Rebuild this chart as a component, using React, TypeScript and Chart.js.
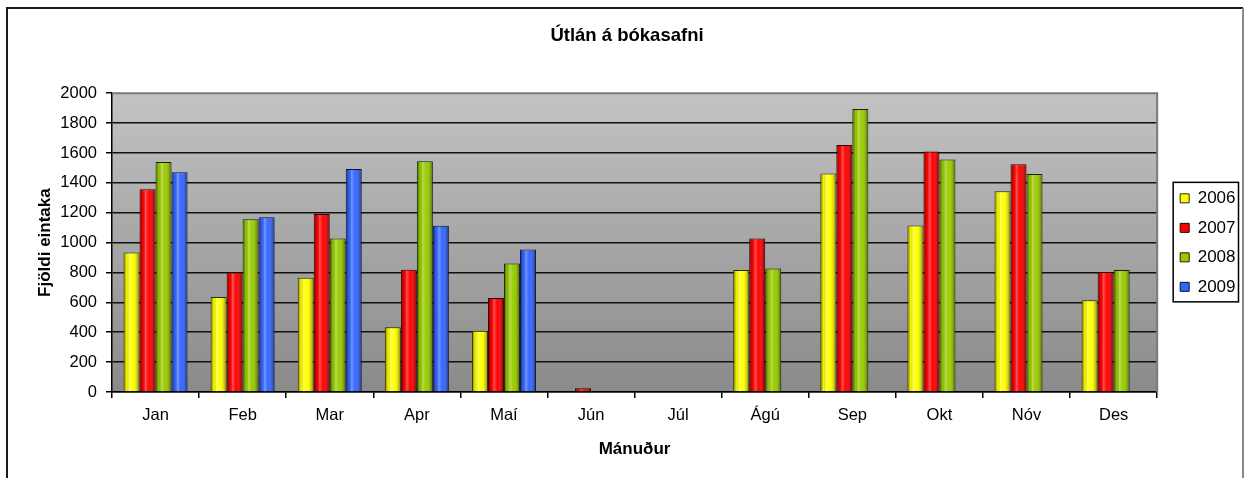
import { useEffect, useRef } from 'react';
import { Chart, registerables } from 'chart.js';

Chart.register(...registerables);

const months = ['Jan', 'Feb', 'Mar', 'Apr', 'Maí', 'Jún', 'Júl', 'Ágú', 'Sep', 'Okt', 'Nóv', 'Des'];
const years = ['2006', '2007', '2008', '2009'];
const values2006 = [934, 636, 764, 434, 410, null, null, 817, 1462, 1115, 1344, 614];
const values2007 = [1357, 800, 1192, 818, 629, 25, null, 1028, 1653, 1610, 1525, 804];
const values2008 = [1539, 1156, 1028, 1545, 860, null, null, 826, 1895, 1557, 1460, 817];
const values2009 = [1471, 1169, 1492, 1113, 954, null, null, null, null, null, null, null];
const yMin = 0;
const yMax = 2000;
const yStep = 200;

const fillColors = ['#FFFF00', '#FF0000', '#99CC00', '#3366FF'];
const edgeColors = ['#2a2a00', '#2a0000', '#172000', '#06123a'];
const FONT = '"Liberation Sans", Arial, Helvetica, sans-serif';

const decorPlugin = {
  id: 'decor',
  beforeDraw(chart: any) {
    const { ctx, chartArea: a } = chart;
    ctx.save();
    const g = ctx.createLinearGradient(0, a.top, 0, a.bottom);
    g.addColorStop(0, '#c3c3c3');
    g.addColorStop(1, '#8a8a8a');
    ctx.fillStyle = g;
    ctx.fillRect(a.left, a.top, a.right - a.left, a.bottom - a.top);
    ctx.restore();
  },
  afterLayout(chart: any) {
    const lg = chart.legend;
    if (lg) {
      const w = lg.right - lg.left;
      lg.left = chart.chartArea.right + 10.5;
      lg.right = lg.left + w;
    }
    const tb = chart.titleBlock;
    if (tb) {
      const w = tb.right - tb.left;
      tb.left = 627 - w / 2;
      tb.right = tb.left + w;
    }
  },
  beforeDatasetsDraw(chart: any) {
    const { ctx, chartArea: a } = chart;
    ctx.save();
    ctx.strokeStyle = '#7a7a7a';
    ctx.lineWidth = 2;
    ctx.beginPath();
    ctx.moveTo(a.left, a.top);
    ctx.lineTo(a.right, a.top);
    ctx.lineTo(a.right, a.bottom);
    ctx.stroke();
    ctx.restore();
  },
  afterDatasetsDraw(chart: any) {
    const ctx = chart.ctx;
    ctx.save();
    chart.data.datasets.forEach((ds: any, di: number) => {
      const meta = chart.getDatasetMeta(di);
      meta.data.forEach((el: any, i: number) => {
        const v = ds.data[i];
        if (v == null) return;
        const { x, y, base, width } = el.getProps(['x', 'y', 'base', 'width'], true);
        const l = x - width / 2 + 1;
        const r = x + width / 2 - 1;
        const t = Math.min(y, base) + 1;
        const b = Math.max(y, base);
        if (b - t < 1 || r - l < 1) return;
        const g = ctx.createLinearGradient(l, 0, r, 0);
        g.addColorStop(0, 'rgba(0,0,0,0.40)');
        g.addColorStop(0.15, 'rgba(0,0,0,0.05)');
        g.addColorStop(0.35, 'rgba(255,255,255,0.30)');
        g.addColorStop(0.6, 'rgba(255,255,255,0.0)');
        g.addColorStop(1, 'rgba(0,0,0,0.38)');
        ctx.fillStyle = g;
        ctx.fillRect(l, t, r - l, b - t);
      });
    });
    ctx.restore();
  },
  afterDraw(chart: any) {
    const { ctx } = chart;
    ctx.save();
    ctx.strokeStyle = '#1a1a1a';
    ctx.lineWidth = 2;
    ctx.beginPath();
    ctx.moveTo(7, 600);
    ctx.lineTo(7, 8);
    ctx.lineTo(1243, 8);
    ctx.stroke();
    ctx.strokeStyle = '#8a8a8a';
    ctx.beginPath();
    ctx.moveTo(1243, 8);
    ctx.lineTo(1243, 600);
    ctx.stroke();
    const lg = chart.legend;
    if (lg && lg.legendHitBoxes && lg.legendHitBoxes.length) {
      const hb = lg.legendHitBoxes;
      const first = hb[0];
      const last = hb[hb.length - 1];
      let maxRight = 0;
      hb.forEach((h: any) => { maxRight = Math.max(maxRight, h.left + h.width); });
      const x0 = first.left - 7;
      const x1 = maxRight + 3;
      const y0 = first.top - 7.5;
      const y1 = last.top + last.height + 6.5;
      ctx.strokeStyle = '#000';
      ctx.lineWidth = 1.5;
      ctx.strokeRect(x0, y0, x1 - x0, y1 - y0);
    }
    ctx.restore();
  },
};

export default function App() {
  const canvasRef = useRef<HTMLCanvasElement | null>(null);

  useEffect(() => {
    const canvas = canvasRef.current;
    if (!canvas) return;
    const series = [values2006, values2007, values2008, values2009];
    const chart = new Chart(canvas, {
      type: 'bar',
      data: {
        labels: months,
        datasets: years.map((yr, i) => ({
          label: yr,
          data: series[i],
          backgroundColor: fillColors[i],
          borderColor: edgeColors[i],
          borderWidth: 1,
          categoryPercentage: 0.735,
          barPercentage: 1,
        })),
      },
      options: {
        animation: false,
        responsive: false,
        maintainAspectRatio: false,
        layout: { padding: { left: 0, right: 9, top: 0, bottom: 0 } },
        plugins: {
          title: {
            display: true,
            text: 'Útlán á bókasafni',
            color: '#000',
            font: { family: FONT, size: 18.5, weight: 'bold' },
            padding: { top: 25, bottom: 46 },
          },
          legend: {
            position: 'right',
            fullSize: false,
            labels: {
              boxWidth: 9,
              boxHeight: 9,
              padding: 12.5,
              color: '#000',
              font: { family: FONT, size: 17 },
            },
          },
          tooltip: { enabled: false },
        },
        scales: {
          x: {
            grid: {
              display: true,
              drawOnChartArea: false,
              drawTicks: true,
              tickLength: 6,
              color: '#000',
              lineWidth: 1.5,
            },
            border: { display: true, color: '#000', width: 1.5 },
            ticks: {
              color: '#000',
              font: { family: FONT, size: 16.5 },
              padding: 8,
              maxRotation: 0,
              autoSkip: false,
            },
            title: {
              display: true,
              text: 'Mánuður',
              color: '#000',
              font: { family: FONT, size: 17, weight: 'bold' },
              padding: { top: 0, bottom: 18 },
            },
            afterFit: (s: any) => { s.height = 86; },
          },
          y: {
            min: yMin,
            max: yMax,
            ticks: {
              stepSize: yStep,
              color: '#000',
              font: { family: FONT, size: 16.5 },
              padding: 9,
              callback: (v: any) => String(v),
            },
            grid: {
              color: (c: any) => (c.tick && c.tick.value === yMax ? 'rgba(0,0,0,0)' : '#111111'),
              tickColor: '#000',
              lineWidth: 1.5,
              tickLength: 6,
            },
            border: { display: true, color: '#000', width: 1.5 },
            title: {
              display: true,
              text: 'Fjöldi eintaka',
              color: '#000',
              font: { family: FONT, size: 17, weight: 'bold' },
              padding: { top: 35, bottom: 0 },
            },
            afterFit: (s: any) => { s.width = 112; },
          },
        },
      },
      plugins: [decorPlugin],
    } as any);
    return () => chart.destroy();
  }, []);

  return (
    <div style={{ position: 'absolute', left: 0, top: 0, width: 1244, height: 478, background: '#fff' }}>
      <canvas ref={canvasRef} width={1244} height={478} style={{ display: 'block', width: 1244, height: 478 }} />
    </div>
  );
}
